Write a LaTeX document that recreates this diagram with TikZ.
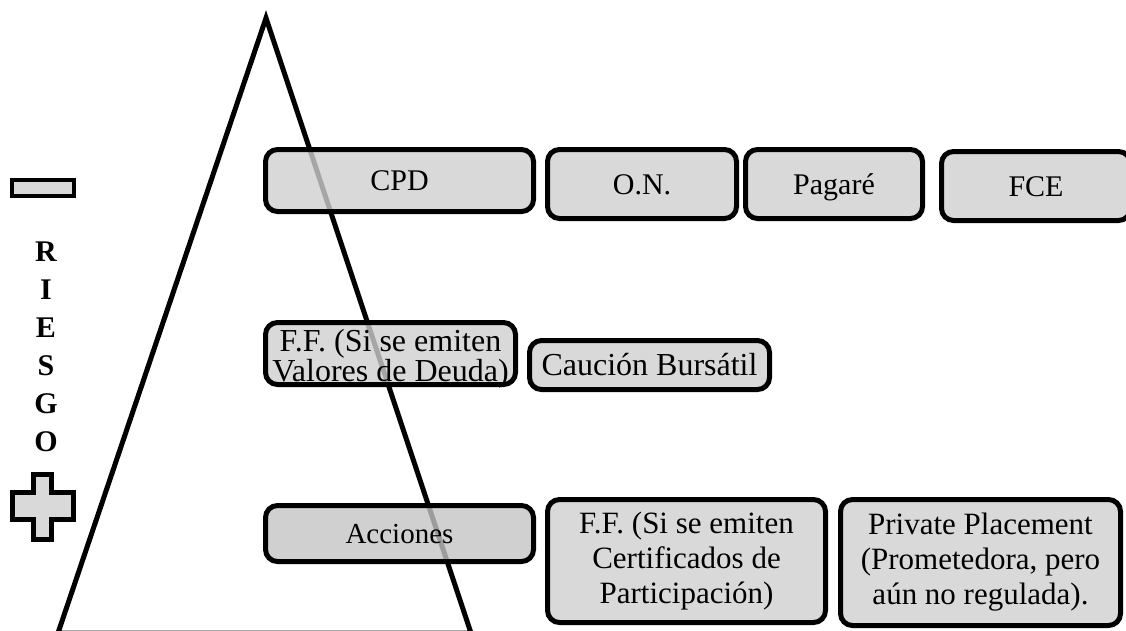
\documentclass[tikz,border=0pt]{standalone}
\usepackage{fontspec}
\setmainfont{Liberation Serif}
\definecolor{boxgray}{RGB}{208,208,208}
\definecolor{darkboxgray}{RGB}{196,196,196}
\definecolor{signgray}{RGB}{217,217,217}
\begin{document}
\begin{tikzpicture}[x=1pt,y=-1pt,
  card/.style={draw=black, line width=5pt, rounded corners=12pt,
    fill=boxgray, fill opacity=0.8, text opacity=1, inner sep=0pt,
    align=center, font=\fontsize{30}{35}\selectfont},
  oneline/.style={text height=20pt, text depth=0pt},
  big/.style={font=\fontsize{31}{35}\selectfont},
  sign/.style={draw=black, line width=4.5pt, fill=signgray},
  pyramid/.style={draw=black, line width=5pt, line join=miter}]
\path[use as bounding box, clip] (0,0) rectangle (1126,630);

% risk pyramid
\draw[pyramid] (266,18) -- (471,633) -- (58,633) -- cycle;

% risk scale: minus at the top, plus at the bottom
\draw[sign] (12,180) rectangle (74,196);
\draw[sign] (33.5,474.5) -- (51.5,474.5) -- (51.5,492.5) -- (73.5,492.5)
  -- (73.5,519.5) -- (51.5,519.5) -- (51.5,539.5) -- (33.5,539.5)
  -- (33.5,519.5) -- (12.5,519.5) -- (12.5,492.5) -- (33.5,492.5) -- cycle;
\node[font=\fontsize{30}{38}\selectfont\bfseries, align=center, inner sep=0pt]
  (riesgo) at (46,347) {R\\I\\E\\S\\G\\O};

% low-risk instruments
\node[card, oneline, minimum width=268pt, minimum height=62pt] (cpd) at (399.5,180.5) {CPD};
\node[card, oneline, minimum width=189pt, minimum height=69pt] (on) at (642,184) {O.N.};
\node[card, oneline, minimum width=177pt, minimum height=69pt] (pagare) at (834,184) {Pagaré};
\node[card, oneline, minimum width=189pt, minimum height=69pt] (fce) at (1036,186) {FCE};

% medium-risk instruments
\node[card, minimum width=250pt, minimum height=62pt] (ffdeuda) at (390.5,353.5) {};
\node[font=\fontsize{32}{30}\selectfont, align=center, inner sep=0pt]
  (ffdeudatext) at (390.5,359) {F.F. (Si se emiten\\Valores de Deuda)};
\node[card, oneline, font=\fontsize{32}{35}\selectfont, minimum width=240pt,
  minimum height=49pt] (caucion) at (649.5,365) {Caución Bursátil};

% high-risk instruments
\node[card, oneline, fill=darkboxgray, font=\fontsize{29}{35}\selectfont,
  minimum width=268pt, minimum height=56pt] (acciones) at (399.5,533.5) {Acciones};
\node[card, big, minimum width=278pt, minimum height=123pt] (ffcert) at (686.5,561)
  {F.F. (Si se emiten\\Certificados de\\Participación)};
\node[card, big, minimum width=280pt, minimum height=126pt] (private) at (980.5,562.5)
  {Private Placement\\(Prometedora, pero\\aún no regulada).};
\end{tikzpicture}
\end{document}
